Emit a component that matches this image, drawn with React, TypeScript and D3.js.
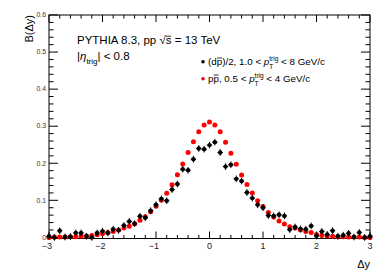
import React, { useEffect, useRef } from 'react'
import * as d3 from 'd3'

// bin centres in delta-y
const binCenters = [
  -3.0, -2.9, -2.8, -2.7, -2.6, -2.5, -2.4, -2.3, -2.2, -2.1,
  -2.0, -1.9, -1.8, -1.7, -1.6, -1.5, -1.4, -1.3, -1.2, -1.1,
  -1.0, -0.9, -0.8, -0.7, -0.6, -0.5, -0.4, -0.3, -0.2, -0.1,
  0.0, 0.1, 0.2, 0.3, 0.4, 0.5, 0.6, 0.7, 0.8, 0.9,
  1.0, 1.1, 1.2, 1.3, 1.4, 1.5, 1.6, 1.7, 1.8, 1.9,
  2.0, 2.1, 2.2, 2.3, 2.4, 2.5, 2.6, 2.7, 2.8, 2.9, 3.0,
]

// p pbar, 0.5 < pT < 4 GeV/c (red)
const ppbarValues = [
  0.000, 0.001, 0.001, 0.001, 0.002, 0.002, 0.003, 0.004, 0.005, 0.007,
  0.010, 0.013, 0.016, 0.020, 0.025, 0.030, 0.037, 0.046, 0.056, 0.069,
  0.084, 0.100, 0.119, 0.142, 0.169, 0.198, 0.229, 0.258, 0.285, 0.303,
  0.311, 0.303, 0.285, 0.257, 0.227, 0.197, 0.168, 0.143, 0.120, 0.099,
  0.083, 0.067, 0.055, 0.044, 0.036, 0.029, 0.025, 0.020, 0.016, 0.013,
  0.008, 0.005, 0.004, 0.003, 0.002, 0.002, 0.001, 0.001, 0.001, 0.000, 0.000,
]

// (d pbar)/2, 1.0 < pT < 8 GeV/c (black)
const dpbarValues = [
  0.003, 0.000, 0.018, 0.001, 0.002, 0.012, 0.012, 0.003, 0.000, 0.012,
  0.017, 0.012, 0.022, 0.019, 0.032, 0.043, 0.037, 0.057, 0.053, 0.072,
  0.088, 0.104, 0.099, 0.129, 0.144, 0.184, 0.181, 0.211, 0.240, 0.238,
  0.249, 0.257, 0.229, 0.191, 0.196, 0.158, 0.152, 0.121, 0.106, 0.088,
  0.080, 0.059, 0.058, 0.061, 0.058, 0.021, 0.028, 0.023, 0.022, 0.031,
  0.004, 0.016, 0.008, 0.018, 0.003, 0.006, 0.011, 0.001, 0.013, 0.000, 0.003,
]
const dpbarError = 0.009
const binHalfWidth = 0.05

const xTicks = [-3, -2, -1, 0, 1, 2, 3]
const xTickLabels = ['\u22123', '\u22122', '\u22121', '0', '1', '2', '3']
const yTicks = [0, 0.1, 0.2, 0.3, 0.4, 0.5, 0.6]
const yTickLabels = ['0', '0.1', '0.2', '0.3', '0.4', '0.5', '0.6']

const font = '"Liberation Sans", Arial, Helvetica, sans-serif'

// draw a bar over the given characters of a text element
const overline = (parent, textSel, from, to, pad = 0.5) => {
  const node = textSel.node()
  const a = node.getExtentOfChar(from)
  const b = node.getExtentOfChar(to)
  const yy = a.y + a.height * 0.2 - pad
  parent.append('line')
    .attr('x1', a.x + 0.3).attr('x2', b.x + b.width - 0.3)
    .attr('y1', yy).attr('y2', yy)
    .attr('stroke', '#000').attr('stroke-width', 0.8)
}

const App = () => {
  const svgRef = useRef(null)

  useEffect(() => {
    draw()
  }, [])

  const draw = () => {
    const W = 378
    const H = 273
    const left = 49, right = 370, top = 15, bottom = 238.5

    const svg = d3.select(svgRef.current)
    svg.selectAll('*').remove()
    svg.attr('width', W).attr('height', H).attr('font-family', font)

    svg.append('rect').attr('width', W).attr('height', H).attr('fill', '#fff')

    const x = d3.scaleLinear().domain([-3, 3]).range([left, right])
    const y = d3.scaleLinear().domain([-0.003, 0.6]).range([bottom, top])

    const g = svg.append('g')

    // frame
    g.append('rect')
      .attr('x', left).attr('y', top)
      .attr('width', right - left).attr('height', bottom - top)
      .attr('fill', 'none').attr('stroke', '#000').attr('stroke-width', 1)

    // x ticks (bottom + top), major every 1, minor every 0.2
    const xMinor = d3.range(-30, 31, 2).map(d => d / 10)
    xMinor.forEach(v => {
      const major = Math.abs(v - Math.round(v)) < 1e-6
      const len = major ? 7 : 3.5
      g.append('line').attr('x1', x(v)).attr('x2', x(v))
        .attr('y1', bottom).attr('y2', bottom - len)
        .attr('stroke', '#000').attr('stroke-width', 1)
      g.append('line').attr('x1', x(v)).attr('x2', x(v))
        .attr('y1', top).attr('y2', top + len)
        .attr('stroke', '#000').attr('stroke-width', 1)
    })

    // y ticks (left + right), major every 0.1, minor every 0.02
    const yMinor = d3.range(0, 31).map(d => d / 50)
    yMinor.forEach(v => {
      const major = v === 0 || Math.abs(v * 10 - Math.round(v * 10)) < 1e-6
      const len = major ? 9 : 4.5
      g.append('line').attr('x1', left).attr('x2', left + len)
        .attr('y1', y(v)).attr('y2', y(v))
        .attr('stroke', '#000').attr('stroke-width', 1)
      g.append('line').attr('x1', right).attr('x2', right - len)
        .attr('y1', y(v)).attr('y2', y(v))
        .attr('stroke', '#000').attr('stroke-width', 1)
    })

    // tick labels
    g.selectAll('.xlab').data(xTicks).enter().append('text')
      .attr('x', d => x(d) - (d < 0 ? 2 : 0)).attr('y', 249)
      .attr('text-anchor', 'middle').attr('font-size', 9).attr('fill', '#222')
      .text((d, i) => xTickLabels[i])

    g.selectAll('.ylab').data(yTicks).enter().append('text')
      .attr('x', left - 3).attr('y', d => y(d) + 2.3)
      .attr('text-anchor', 'end').attr('font-size', 6.8).attr('fill', '#333')
      .text((d, i) => yTickLabels[i])

    // axis titles
    svg.append('text')
      .attr('transform', `translate(33, ${top}) rotate(-90)`)
      .attr('text-anchor', 'end').attr('font-size', 11).attr('fill', '#000')
      .text('B(\u0394y)')

    svg.append('text')
      .attr('x', right).attr('y', 268)
      .attr('text-anchor', 'end').attr('font-size', 11).attr('fill', '#000')
      .text('\u0394y')

    // red series: p pbar
    g.append('g').selectAll('circle')
      .data(binCenters).enter().append('circle')
      .attr('cx', d => x(d))
      .attr('cy', (d, i) => y(ppbarValues[i]))
      .attr('r', 2.5)
      .attr('fill', '#ff0000')

    // black series with error bars: (d pbar)/2
    const blk = g.append('g').selectAll('g')
      .data(binCenters).enter().append('g')
    blk.append('line')
      .attr('x1', d => x(d)).attr('x2', d => x(d))
      .attr('y1', (d, i) => y(dpbarValues[i] - dpbarError))
      .attr('y2', (d, i) => y(dpbarValues[i] + dpbarError))
      .attr('stroke', '#000').attr('stroke-width', 1)
    blk.append('line')
      .attr('x1', d => x(d - binHalfWidth)).attr('x2', d => x(d + binHalfWidth))
      .attr('y1', (d, i) => y(dpbarValues[i]))
      .attr('y2', (d, i) => y(dpbarValues[i]))
      .attr('stroke', '#000').attr('stroke-width', 1)
    blk.append('circle')
      .attr('cx', d => x(d))
      .attr('cy', (d, i) => y(dpbarValues[i]))
      .attr('r', 2.2)
      .attr('fill', '#000')

    // header text
    const t1 = svg.append('text').attr('x', 77).attr('y', 44)
      .attr('font-size', 11.5).attr('fill', '#000')
      .text('PYTHIA 8.3, pp \u221As = 13 TeV')
    overline(svg, t1, 16, 16, 0.2)

    const t2 = svg.append('text').attr('x', 77).attr('y', 60)
      .attr('font-size', 11.5).attr('fill', '#000')
    t2.append('tspan').text('|')
    t2.append('tspan').attr('font-style', 'italic').text('\u03B7')
    t2.append('tspan').attr('font-size', 8).attr('dy', 3.5).text('trig')
    t2.append('tspan').attr('dy', -3.5).text('| < 0.8')

    // legend
    const legendRows = [
      { color: '#000', y: 65, pre: '(dp)/2, 1.0 < ', bar: 2, hi: '8' },
      { color: '#ff0000', y: 82, pre: 'pp, 0.5 < ', bar: 1, hi: '4' },
    ]
    legendRows.forEach(row => {
      svg.append('circle').attr('cx', 203).attr('cy', row.y - 3.2)
        .attr('r', 1.8).attr('fill', row.color)
      const t = svg.append('text').attr('x', 208).attr('y', row.y)
        .attr('font-size', 9.8).attr('fill', '#000')
      t.append('tspan').text(row.pre)
      t.append('tspan').attr('font-style', 'italic').text('p')
      t.append('tspan').attr('font-size', 6.5).attr('dy', -4).text('trig')
      t.append('tspan').attr('font-size', 6.5).attr('dx', -9).attr('dy', 7.5).text('T')
      t.append('tspan').attr('dx', 5).attr('dy', -3.5).text(` < ${row.hi} GeV/c`)
      overline(svg, t, row.bar, row.bar, 0.2)
    })
  }

  return (
    <div>
      <svg ref={svgRef} style={{ position: 'absolute', left: 0, top: 0 }} />
    </div>
  )
}

export default App
